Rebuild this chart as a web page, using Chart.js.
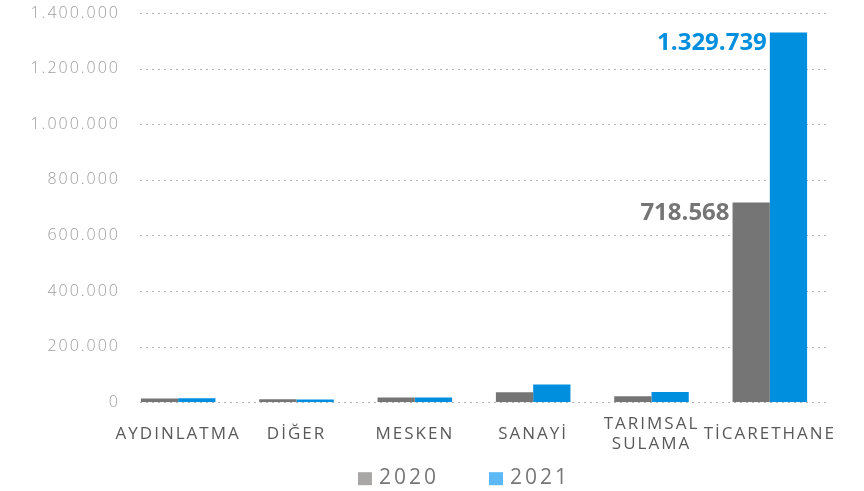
<!DOCTYPE html>
<html lang="tr">
<head>
<meta charset="UTF-8">
<title>Tüketim</title>
<script src="https://cdn.jsdelivr.net/npm/chart.js"></script>
<style>
  html, body { margin: 0; padding: 0; background: #fff; }
  #wrap { width: 864px; height: 491px; position: relative; }
</style>
</head>
<body>
<div id="wrap"><canvas id="chart"></canvas></div>
<script>
// abone grubu ve yıllara göre değerler
const categories = ['AYDINLATMA', 'DİĞER', 'MESKEN', 'SANAYİ', ['TARIMSAL', 'SULAMA'], 'TİCARETHANE'];
const years = ['2020', '2021'];
const values2020 = [13000, 11000, 17000, 36000, 21000, 718568];
const values2021 = [14000, 10000, 17000, 64000, 37000, 1329739];
const yTicks = [0, 200000, 400000, 600000, 800000, 1000000, 1200000, 1400000];
const labelledIndex = 5;

const barColors = ['#767576', '#008fde'];
const legendColors = ['#a9a6a6', '#5cb9f6'];

function fmt(v) {
  return String(Math.round(v)).replace(/\B(?=(\d{3})+(?!\d))/g, '.');
}

// eksen yazılarında harf aralığı
const spacing = {
  id: 'spacing',
  beforeUpdate(chart) { chart.ctx.letterSpacing = '2px'; },
  beforeDraw(chart) { chart.ctx.letterSpacing = '2px'; }
};

// noktalı yatay çizgiler
const dottedGrid = {
  id: 'dottedGrid',
  beforeDatasetsDraw(chart) {
    const { ctx, chartArea, scales } = chart;
    ctx.save();
    ctx.strokeStyle = '#b5b5b5';
    ctx.lineWidth = 1;
    ctx.setLineDash([2, 4]);
    yTicks.forEach(t => {
      const y = Math.round(scales.y.getPixelForValue(t)) + 0.5;
      ctx.beginPath();
      ctx.moveTo(chartArea.left + 21, y);
      ctx.lineTo(chartArea.right - 2, y);
      ctx.stroke();
    });
    ctx.restore();
  }
};

// seçili çubukların sol üstüne değer yazısı
const valueLabels = {
  id: 'valueLabels',
  afterDatasetsDraw(chart) {
    const { ctx } = chart;
    ctx.save();
    ctx.letterSpacing = '0px';
    ctx.font = 'bold 24px "Open Sans"';
    ctx.textAlign = 'right';
    ctx.textBaseline = 'top';
    chart.data.datasets.forEach((ds, di) => {
      const bar = chart.getDatasetMeta(di).data[labelledIndex];
      ctx.fillStyle = barColors[di];
      ctx.fillText(fmt(ds.data[labelledIndex]), bar.x - bar.width / 2 - 3, bar.y - 1);
    });
    ctx.restore();
  }
};

// alt kısımdaki yıl açıklaması
const yearLegend = {
  id: 'yearLegend',
  afterDraw(chart) {
    const { ctx, chartArea } = chart;
    ctx.save();
    ctx.letterSpacing = '3px';
    ctx.font = '21px "Open Sans"';
    ctx.textBaseline = 'middle';
    const box = 14, gap = 7, between = 50;
    const widths = years.map(y => ctx.measureText(y).width);
    const total = widths.reduce((a, w) => a + box + gap + w, 0) + between * (years.length - 1);
    let x = (chartArea.left + chartArea.right) / 2 - 10 - total / 2;
    const cy = chartArea.bottom + 76;
    years.forEach((y, i) => {
      ctx.fillStyle = legendColors[i];
      ctx.fillRect(x, cy - 6, box, 13);
      ctx.fillStyle = '#777';
      ctx.fillText(y, x + box + gap, cy);
      x += box + gap + widths[i] + between;
    });
    ctx.restore();
  }
};

new Chart(document.getElementById('chart'), {
  type: 'bar',
  data: {
    labels: categories,
    datasets: [
      { label: years[0], data: values2020, backgroundColor: barColors[0] },
      { label: years[1], data: values2021, backgroundColor: barColors[1] }
    ]
  },
  options: {
    responsive: true,
    maintainAspectRatio: false,
    animation: false,
    layout: { padding: { top: 13, right: 35, left: 0, bottom: 4 } },
    datasets: { bar: { categoryPercentage: 0.63, barPercentage: 1.0 } },
    scales: {
      x: {
        grid: { display: false, drawTicks: false },
        border: { display: false },
        ticks: {
          color: '#595959',
          font: { family: 'Open Sans', size: 17 },
          padding: 22,
          crossAlign: 'center',
          maxRotation: 0,
          autoSkip: false
        }
      },
      y: {
        min: 0,
        max: 1400000,
        grid: { display: false, drawTicks: false },
        border: { display: false },
        afterFit(scale) { scale.width = 119; },
        afterBuildTicks(scale) { scale.ticks = yTicks.map(v => ({ value: v })); },
        ticks: {
          color: '#9d9d9d',
          font: { family: 'Open Sans', size: 16, weight: '300' },
          padding: -1,
          callback: v => fmt(v)
        }
      }
    },
    plugins: {
      tooltip: { enabled: false },
      legend: { display: false }
    }
  },
  plugins: [spacing, dottedGrid, valueLabels, yearLegend]
});
</script>
</body>
</html>
